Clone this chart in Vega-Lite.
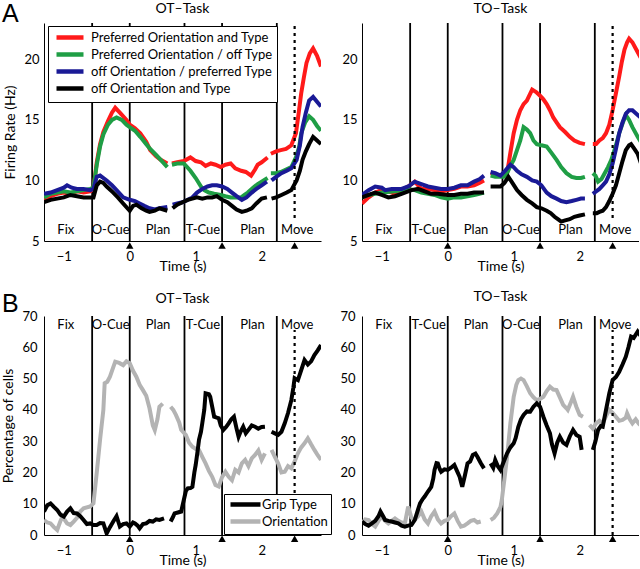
{
"$schema": "https://vega.github.io/schema/vega-lite/v6.json",
"padding": {"left": 1, "top": 1, "right": 0, "bottom": 0},
"config": {
  "font": "Lato",
  "view": {"stroke": null},
  "axis": {"domainColor": "#000", "domainWidth": 1, "ticks": false, "grid": false, "labelColor": "#000", "titleColor": "#000", "labelFontSize": 13, "titleFontSize": 14, "titleFontWeight": "normal"},
  "axisX": {"labelPadding": 9, "titlePadding": -4},
  "title": {"fontSize": 14, "fontWeight": "normal", "color": "#000", "offset": 6},
  "text": {"color": "#000"}
},
"datasets": {
  "ev": [{"t": -0.57}, {"t": 0}, {"t": 0.83}, {"t": 1.4}, {"t": 2.23}],
  "dot": [{"t": 2.5}],
  "tri": [{"t": 0}, {"t": 1.4}, {"t": 2.5}],
  "phases": [
    {"task": "OT", "t": -0.97, "label": "Fix"}, {"task": "OT", "t": -0.29, "label": "O-Cue"}, {"task": "OT", "t": 0.43, "label": "Plan"}, {"task": "OT", "t": 1.11, "label": "T-Cue"}, {"task": "OT", "t": 1.86, "label": "Plan"}, {"task": "OT", "t": 2.54, "label": "Move"},
    {"task": "TO", "t": -0.97, "label": "Fix"}, {"task": "TO", "t": -0.29, "label": "T-Cue"}, {"task": "TO", "t": 0.43, "label": "Plan"}, {"task": "TO", "t": 1.11, "label": "O-Cue"}, {"task": "TO", "t": 1.86, "label": "Plan"}, {"task": "TO", "t": 2.54, "label": "Move"}
  ],
  "fr": [
{"task":"OT","s":"Preferred Orientation and Type","g":1,"t":-1.3,"v":8.4},
{"task":"OT","s":"Preferred Orientation and Type","g":1,"t":-1.2,"v":8.7},
{"task":"OT","s":"Preferred Orientation and Type","g":1,"t":-1.1,"v":8.9},
{"task":"OT","s":"Preferred Orientation and Type","g":1,"t":-1.0,"v":9.0},
{"task":"OT","s":"Preferred Orientation and Type","g":1,"t":-0.9,"v":8.9},
{"task":"OT","s":"Preferred Orientation and Type","g":1,"t":-0.8,"v":9.1},
{"task":"OT","s":"Preferred Orientation and Type","g":1,"t":-0.7,"v":9.0},
{"task":"OT","s":"Preferred Orientation and Type","g":1,"t":-0.6,"v":9.1},
{"task":"OT","s":"Preferred Orientation and Type","g":1,"t":-0.55,"v":9.3},
{"task":"OT","s":"Preferred Orientation and Type","g":1,"t":-0.5,"v":11.5},
{"task":"OT","s":"Preferred Orientation and Type","g":1,"t":-0.45,"v":13.0},
{"task":"OT","s":"Preferred Orientation and Type","g":1,"t":-0.4,"v":14.0},
{"task":"OT","s":"Preferred Orientation and Type","g":1,"t":-0.33,"v":14.9},
{"task":"OT","s":"Preferred Orientation and Type","g":1,"t":-0.27,"v":15.6},
{"task":"OT","s":"Preferred Orientation and Type","g":1,"t":-0.22,"v":16.0},
{"task":"OT","s":"Preferred Orientation and Type","g":1,"t":-0.15,"v":15.6},
{"task":"OT","s":"Preferred Orientation and Type","g":1,"t":-0.05,"v":15.0},
{"task":"OT","s":"Preferred Orientation and Type","g":1,"t":0,"v":14.6},
{"task":"OT","s":"Preferred Orientation and Type","g":1,"t":0.08,"v":14.3},
{"task":"OT","s":"Preferred Orientation and Type","g":1,"t":0.16,"v":13.9},
{"task":"OT","s":"Preferred Orientation and Type","g":1,"t":0.25,"v":13.2},
{"task":"OT","s":"Preferred Orientation and Type","g":1,"t":0.31,"v":12.5},
{"task":"OT","s":"Preferred Orientation and Type","g":1,"t":0.4,"v":12.0},
{"task":"OT","s":"Preferred Orientation and Type","g":1,"t":0.47,"v":11.7},
{"task":"OT","s":"Preferred Orientation and Type","g":1,"t":0.57,"v":11.4},
{"task":"OT","s":"Preferred Orientation and Type","g":2,"t":0.64,"v":11.4},
{"task":"OT","s":"Preferred Orientation and Type","g":2,"t":0.72,"v":11.5},
{"task":"OT","s":"Preferred Orientation and Type","g":2,"t":0.82,"v":11.6},
{"task":"OT","s":"Preferred Orientation and Type","g":2,"t":0.92,"v":11.9},
{"task":"OT","s":"Preferred Orientation and Type","g":2,"t":1.0,"v":11.6},
{"task":"OT","s":"Preferred Orientation and Type","g":2,"t":1.08,"v":11.5},
{"task":"OT","s":"Preferred Orientation and Type","g":2,"t":1.15,"v":11.2},
{"task":"OT","s":"Preferred Orientation and Type","g":2,"t":1.23,"v":11.4},
{"task":"OT","s":"Preferred Orientation and Type","g":2,"t":1.3,"v":11.3},
{"task":"OT","s":"Preferred Orientation and Type","g":2,"t":1.38,"v":11.1},
{"task":"OT","s":"Preferred Orientation and Type","g":2,"t":1.45,"v":11.3},
{"task":"OT","s":"Preferred Orientation and Type","g":2,"t":1.53,"v":11.4},
{"task":"OT","s":"Preferred Orientation and Type","g":2,"t":1.6,"v":11.0},
{"task":"OT","s":"Preferred Orientation and Type","g":2,"t":1.69,"v":10.8},
{"task":"OT","s":"Preferred Orientation and Type","g":2,"t":1.76,"v":10.7},
{"task":"OT","s":"Preferred Orientation and Type","g":2,"t":1.84,"v":10.4},
{"task":"OT","s":"Preferred Orientation and Type","g":2,"t":1.9,"v":10.9},
{"task":"OT","s":"Preferred Orientation and Type","g":2,"t":1.94,"v":11.3},
{"task":"OT","s":"Preferred Orientation and Type","g":2,"t":2.0,"v":11.5},
{"task":"OT","s":"Preferred Orientation and Type","g":2,"t":2.09,"v":11.9},
{"task":"OT","s":"Preferred Orientation and Type","g":3,"t":2.14,"v":12.2},
{"task":"OT","s":"Preferred Orientation and Type","g":3,"t":2.22,"v":12.4},
{"task":"OT","s":"Preferred Orientation and Type","g":3,"t":2.29,"v":12.5},
{"task":"OT","s":"Preferred Orientation and Type","g":3,"t":2.37,"v":12.6},
{"task":"OT","s":"Preferred Orientation and Type","g":3,"t":2.45,"v":12.9},
{"task":"OT","s":"Preferred Orientation and Type","g":3,"t":2.52,"v":13.9},
{"task":"OT","s":"Preferred Orientation and Type","g":3,"t":2.56,"v":15.5},
{"task":"OT","s":"Preferred Orientation and Type","g":3,"t":2.6,"v":17.2},
{"task":"OT","s":"Preferred Orientation and Type","g":3,"t":2.64,"v":18.5},
{"task":"OT","s":"Preferred Orientation and Type","g":3,"t":2.68,"v":19.7},
{"task":"OT","s":"Preferred Orientation and Type","g":3,"t":2.73,"v":20.5},
{"task":"OT","s":"Preferred Orientation and Type","g":3,"t":2.78,"v":20.9},
{"task":"OT","s":"Preferred Orientation and Type","g":3,"t":2.84,"v":20.3},
{"task":"OT","s":"Preferred Orientation and Type","g":3,"t":2.9,"v":19.4},
{"task":"OT","s":"Preferred Orientation / off Type","g":1,"t":-1.3,"v":8.6},
{"task":"OT","s":"Preferred Orientation / off Type","g":1,"t":-1.2,"v":8.9},
{"task":"OT","s":"Preferred Orientation / off Type","g":1,"t":-1.1,"v":9.0},
{"task":"OT","s":"Preferred Orientation / off Type","g":1,"t":-1.0,"v":9.1},
{"task":"OT","s":"Preferred Orientation / off Type","g":1,"t":-0.9,"v":9.0},
{"task":"OT","s":"Preferred Orientation / off Type","g":1,"t":-0.8,"v":9.1},
{"task":"OT","s":"Preferred Orientation / off Type","g":1,"t":-0.7,"v":9.2},
{"task":"OT","s":"Preferred Orientation / off Type","g":1,"t":-0.6,"v":9.3},
{"task":"OT","s":"Preferred Orientation / off Type","g":1,"t":-0.55,"v":9.4},
{"task":"OT","s":"Preferred Orientation / off Type","g":1,"t":-0.5,"v":11.3},
{"task":"OT","s":"Preferred Orientation / off Type","g":1,"t":-0.45,"v":12.8},
{"task":"OT","s":"Preferred Orientation / off Type","g":1,"t":-0.4,"v":13.8},
{"task":"OT","s":"Preferred Orientation / off Type","g":1,"t":-0.33,"v":14.6},
{"task":"OT","s":"Preferred Orientation / off Type","g":1,"t":-0.27,"v":15.0},
{"task":"OT","s":"Preferred Orientation / off Type","g":1,"t":-0.2,"v":15.2},
{"task":"OT","s":"Preferred Orientation / off Type","g":1,"t":-0.12,"v":15.0},
{"task":"OT","s":"Preferred Orientation / off Type","g":1,"t":-0.05,"v":14.6},
{"task":"OT","s":"Preferred Orientation / off Type","g":1,"t":0,"v":14.4},
{"task":"OT","s":"Preferred Orientation / off Type","g":1,"t":0.08,"v":14.1},
{"task":"OT","s":"Preferred Orientation / off Type","g":1,"t":0.16,"v":13.6},
{"task":"OT","s":"Preferred Orientation / off Type","g":1,"t":0.25,"v":13.0},
{"task":"OT","s":"Preferred Orientation / off Type","g":1,"t":0.31,"v":12.6},
{"task":"OT","s":"Preferred Orientation / off Type","g":1,"t":0.4,"v":12.1},
{"task":"OT","s":"Preferred Orientation / off Type","g":1,"t":0.47,"v":11.7},
{"task":"OT","s":"Preferred Orientation / off Type","g":1,"t":0.57,"v":11.1},
{"task":"OT","s":"Preferred Orientation / off Type","g":2,"t":0.64,"v":11.3},
{"task":"OT","s":"Preferred Orientation / off Type","g":2,"t":0.72,"v":11.4},
{"task":"OT","s":"Preferred Orientation / off Type","g":2,"t":0.82,"v":11.4},
{"task":"OT","s":"Preferred Orientation / off Type","g":2,"t":0.92,"v":10.8},
{"task":"OT","s":"Preferred Orientation / off Type","g":2,"t":1.0,"v":10.2},
{"task":"OT","s":"Preferred Orientation / off Type","g":2,"t":1.08,"v":9.5},
{"task":"OT","s":"Preferred Orientation / off Type","g":2,"t":1.13,"v":9.2},
{"task":"OT","s":"Preferred Orientation / off Type","g":2,"t":1.2,"v":9.0},
{"task":"OT","s":"Preferred Orientation / off Type","g":2,"t":1.28,"v":8.9},
{"task":"OT","s":"Preferred Orientation / off Type","g":2,"t":1.38,"v":8.8},
{"task":"OT","s":"Preferred Orientation / off Type","g":2,"t":1.45,"v":8.7},
{"task":"OT","s":"Preferred Orientation / off Type","g":2,"t":1.53,"v":8.6},
{"task":"OT","s":"Preferred Orientation / off Type","g":2,"t":1.6,"v":8.6},
{"task":"OT","s":"Preferred Orientation / off Type","g":2,"t":1.69,"v":8.6},
{"task":"OT","s":"Preferred Orientation / off Type","g":2,"t":1.74,"v":8.8},
{"task":"OT","s":"Preferred Orientation / off Type","g":2,"t":1.79,"v":9.0},
{"task":"OT","s":"Preferred Orientation / off Type","g":2,"t":1.87,"v":9.4},
{"task":"OT","s":"Preferred Orientation / off Type","g":2,"t":1.94,"v":9.7},
{"task":"OT","s":"Preferred Orientation / off Type","g":2,"t":2.0,"v":9.9},
{"task":"OT","s":"Preferred Orientation / off Type","g":2,"t":2.09,"v":10.2},
{"task":"OT","s":"Preferred Orientation / off Type","g":3,"t":2.14,"v":10.6},
{"task":"OT","s":"Preferred Orientation / off Type","g":3,"t":2.22,"v":10.6},
{"task":"OT","s":"Preferred Orientation / off Type","g":3,"t":2.29,"v":10.7},
{"task":"OT","s":"Preferred Orientation / off Type","g":3,"t":2.37,"v":10.9},
{"task":"OT","s":"Preferred Orientation / off Type","g":3,"t":2.45,"v":11.1},
{"task":"OT","s":"Preferred Orientation / off Type","g":3,"t":2.52,"v":11.9},
{"task":"OT","s":"Preferred Orientation / off Type","g":3,"t":2.57,"v":12.8},
{"task":"OT","s":"Preferred Orientation / off Type","g":3,"t":2.6,"v":13.9},
{"task":"OT","s":"Preferred Orientation / off Type","g":3,"t":2.66,"v":14.8},
{"task":"OT","s":"Preferred Orientation / off Type","g":3,"t":2.72,"v":15.3},
{"task":"OT","s":"Preferred Orientation / off Type","g":3,"t":2.78,"v":15.0},
{"task":"OT","s":"Preferred Orientation / off Type","g":3,"t":2.84,"v":14.5},
{"task":"OT","s":"Preferred Orientation / off Type","g":3,"t":2.9,"v":14.1},
{"task":"OT","s":"off Orientation / preferred Type","g":1,"t":-1.3,"v":8.9},
{"task":"OT","s":"off Orientation / preferred Type","g":1,"t":-1.2,"v":9.0},
{"task":"OT","s":"off Orientation / preferred Type","g":1,"t":-1.1,"v":9.2},
{"task":"OT","s":"off Orientation / preferred Type","g":1,"t":-1.0,"v":9.4},
{"task":"OT","s":"off Orientation / preferred Type","g":1,"t":-0.95,"v":9.6},
{"task":"OT","s":"off Orientation / preferred Type","g":1,"t":-0.88,"v":9.4},
{"task":"OT","s":"off Orientation / preferred Type","g":1,"t":-0.8,"v":9.3},
{"task":"OT","s":"off Orientation / preferred Type","g":1,"t":-0.7,"v":9.3},
{"task":"OT","s":"off Orientation / preferred Type","g":1,"t":-0.6,"v":9.2},
{"task":"OT","s":"off Orientation / preferred Type","g":1,"t":-0.55,"v":9.3},
{"task":"OT","s":"off Orientation / preferred Type","g":1,"t":-0.5,"v":10.3},
{"task":"OT","s":"off Orientation / preferred Type","g":1,"t":-0.45,"v":10.4},
{"task":"OT","s":"off Orientation / preferred Type","g":1,"t":-0.35,"v":10.0},
{"task":"OT","s":"off Orientation / preferred Type","g":1,"t":-0.27,"v":9.6},
{"task":"OT","s":"off Orientation / preferred Type","g":1,"t":-0.2,"v":9.2},
{"task":"OT","s":"off Orientation / preferred Type","g":1,"t":-0.1,"v":8.6},
{"task":"OT","s":"off Orientation / preferred Type","g":1,"t":0,"v":8.4},
{"task":"OT","s":"off Orientation / preferred Type","g":1,"t":0.08,"v":8.3},
{"task":"OT","s":"off Orientation / preferred Type","g":1,"t":0.15,"v":8.1},
{"task":"OT","s":"off Orientation / preferred Type","g":1,"t":0.22,"v":7.9},
{"task":"OT","s":"off Orientation / preferred Type","g":1,"t":0.3,"v":7.7},
{"task":"OT","s":"off Orientation / preferred Type","g":1,"t":0.38,"v":7.6},
{"task":"OT","s":"off Orientation / preferred Type","g":1,"t":0.45,"v":7.7},
{"task":"OT","s":"off Orientation / preferred Type","g":1,"t":0.57,"v":7.8},
{"task":"OT","s":"off Orientation / preferred Type","g":2,"t":0.65,"v":8.0},
{"task":"OT","s":"off Orientation / preferred Type","g":2,"t":0.72,"v":8.1},
{"task":"OT","s":"off Orientation / preferred Type","g":2,"t":0.8,"v":8.2},
{"task":"OT","s":"off Orientation / preferred Type","g":2,"t":0.88,"v":8.4},
{"task":"OT","s":"off Orientation / preferred Type","g":2,"t":0.95,"v":8.6},
{"task":"OT","s":"off Orientation / preferred Type","g":2,"t":1.02,"v":9.0},
{"task":"OT","s":"off Orientation / preferred Type","g":2,"t":1.1,"v":9.3},
{"task":"OT","s":"off Orientation / preferred Type","g":2,"t":1.18,"v":9.5},
{"task":"OT","s":"off Orientation / preferred Type","g":2,"t":1.25,"v":9.6},
{"task":"OT","s":"off Orientation / preferred Type","g":2,"t":1.32,"v":9.6},
{"task":"OT","s":"off Orientation / preferred Type","g":2,"t":1.4,"v":9.5},
{"task":"OT","s":"off Orientation / preferred Type","g":2,"t":1.48,"v":9.3},
{"task":"OT","s":"off Orientation / preferred Type","g":2,"t":1.55,"v":9.0},
{"task":"OT","s":"off Orientation / preferred Type","g":2,"t":1.62,"v":8.7},
{"task":"OT","s":"off Orientation / preferred Type","g":2,"t":1.7,"v":8.4},
{"task":"OT","s":"off Orientation / preferred Type","g":2,"t":1.77,"v":8.6},
{"task":"OT","s":"off Orientation / preferred Type","g":2,"t":1.85,"v":9.0},
{"task":"OT","s":"off Orientation / preferred Type","g":2,"t":1.92,"v":9.3},
{"task":"OT","s":"off Orientation / preferred Type","g":2,"t":2.0,"v":9.6},
{"task":"OT","s":"off Orientation / preferred Type","g":2,"t":2.08,"v":9.9},
{"task":"OT","s":"off Orientation / preferred Type","g":3,"t":2.15,"v":10.0},
{"task":"OT","s":"off Orientation / preferred Type","g":3,"t":2.22,"v":10.3},
{"task":"OT","s":"off Orientation / preferred Type","g":3,"t":2.3,"v":10.6},
{"task":"OT","s":"off Orientation / preferred Type","g":3,"t":2.38,"v":10.8},
{"task":"OT","s":"off Orientation / preferred Type","g":3,"t":2.45,"v":11.0},
{"task":"OT","s":"off Orientation / preferred Type","g":3,"t":2.53,"v":11.7},
{"task":"OT","s":"off Orientation / preferred Type","g":3,"t":2.58,"v":12.9},
{"task":"OT","s":"off Orientation / preferred Type","g":3,"t":2.62,"v":14.4},
{"task":"OT","s":"off Orientation / preferred Type","g":3,"t":2.67,"v":15.6},
{"task":"OT","s":"off Orientation / preferred Type","g":3,"t":2.72,"v":16.6},
{"task":"OT","s":"off Orientation / preferred Type","g":3,"t":2.78,"v":16.9},
{"task":"OT","s":"off Orientation / preferred Type","g":3,"t":2.84,"v":16.5},
{"task":"OT","s":"off Orientation / preferred Type","g":3,"t":2.9,"v":16.1},
{"task":"OT","s":"off Orientation and Type","g":1,"t":-1.3,"v":8.2},
{"task":"OT","s":"off Orientation and Type","g":1,"t":-1.2,"v":8.4},
{"task":"OT","s":"off Orientation and Type","g":1,"t":-1.1,"v":8.5},
{"task":"OT","s":"off Orientation and Type","g":1,"t":-1.0,"v":8.6},
{"task":"OT","s":"off Orientation and Type","g":1,"t":-0.9,"v":8.8},
{"task":"OT","s":"off Orientation and Type","g":1,"t":-0.8,"v":8.7},
{"task":"OT","s":"off Orientation and Type","g":1,"t":-0.7,"v":8.6},
{"task":"OT","s":"off Orientation and Type","g":1,"t":-0.6,"v":8.6},
{"task":"OT","s":"off Orientation and Type","g":1,"t":-0.55,"v":8.6},
{"task":"OT","s":"off Orientation and Type","g":1,"t":-0.5,"v":9.6},
{"task":"OT","s":"off Orientation and Type","g":1,"t":-0.45,"v":9.9},
{"task":"OT","s":"off Orientation and Type","g":1,"t":-0.4,"v":9.8},
{"task":"OT","s":"off Orientation and Type","g":1,"t":-0.35,"v":9.5},
{"task":"OT","s":"off Orientation and Type","g":1,"t":-0.25,"v":9.0},
{"task":"OT","s":"off Orientation and Type","g":1,"t":-0.18,"v":8.6},
{"task":"OT","s":"off Orientation and Type","g":1,"t":-0.1,"v":8.1},
{"task":"OT","s":"off Orientation and Type","g":1,"t":0,"v":7.5},
{"task":"OT","s":"off Orientation and Type","g":1,"t":0.05,"v":7.9},
{"task":"OT","s":"off Orientation and Type","g":1,"t":0.1,"v":8.0},
{"task":"OT","s":"off Orientation and Type","g":1,"t":0.18,"v":7.7},
{"task":"OT","s":"off Orientation and Type","g":1,"t":0.25,"v":7.5},
{"task":"OT","s":"off Orientation and Type","g":1,"t":0.3,"v":7.4},
{"task":"OT","s":"off Orientation and Type","g":1,"t":0.38,"v":7.5},
{"task":"OT","s":"off Orientation and Type","g":1,"t":0.45,"v":7.7},
{"task":"OT","s":"off Orientation and Type","g":1,"t":0.57,"v":7.5},
{"task":"OT","s":"off Orientation and Type","g":2,"t":0.65,"v":7.7},
{"task":"OT","s":"off Orientation and Type","g":2,"t":0.72,"v":8.0},
{"task":"OT","s":"off Orientation and Type","g":2,"t":0.8,"v":8.2},
{"task":"OT","s":"off Orientation and Type","g":2,"t":0.88,"v":8.4},
{"task":"OT","s":"off Orientation and Type","g":2,"t":0.95,"v":8.5},
{"task":"OT","s":"off Orientation and Type","g":2,"t":1.02,"v":8.6},
{"task":"OT","s":"off Orientation and Type","g":2,"t":1.1,"v":8.5},
{"task":"OT","s":"off Orientation and Type","g":2,"t":1.18,"v":8.6},
{"task":"OT","s":"off Orientation and Type","g":2,"t":1.25,"v":8.6},
{"task":"OT","s":"off Orientation and Type","g":2,"t":1.32,"v":8.7},
{"task":"OT","s":"off Orientation and Type","g":2,"t":1.4,"v":8.4},
{"task":"OT","s":"off Orientation and Type","g":2,"t":1.48,"v":8.2},
{"task":"OT","s":"off Orientation and Type","g":2,"t":1.55,"v":7.9},
{"task":"OT","s":"off Orientation and Type","g":2,"t":1.62,"v":7.6},
{"task":"OT","s":"off Orientation and Type","g":2,"t":1.7,"v":7.4},
{"task":"OT","s":"off Orientation and Type","g":2,"t":1.77,"v":7.5},
{"task":"OT","s":"off Orientation and Type","g":2,"t":1.85,"v":7.7},
{"task":"OT","s":"off Orientation and Type","g":2,"t":1.92,"v":8.1},
{"task":"OT","s":"off Orientation and Type","g":2,"t":2.0,"v":8.5},
{"task":"OT","s":"off Orientation and Type","g":2,"t":2.08,"v":8.6},
{"task":"OT","s":"off Orientation and Type","g":3,"t":2.15,"v":8.5},
{"task":"OT","s":"off Orientation and Type","g":3,"t":2.22,"v":8.6},
{"task":"OT","s":"off Orientation and Type","g":3,"t":2.3,"v":8.8},
{"task":"OT","s":"off Orientation and Type","g":3,"t":2.38,"v":9.0},
{"task":"OT","s":"off Orientation and Type","g":3,"t":2.45,"v":9.2},
{"task":"OT","s":"off Orientation and Type","g":3,"t":2.53,"v":10.0},
{"task":"OT","s":"off Orientation and Type","g":3,"t":2.58,"v":10.8},
{"task":"OT","s":"off Orientation and Type","g":3,"t":2.62,"v":11.7},
{"task":"OT","s":"off Orientation and Type","g":3,"t":2.67,"v":12.4},
{"task":"OT","s":"off Orientation and Type","g":3,"t":2.72,"v":13.0},
{"task":"OT","s":"off Orientation and Type","g":3,"t":2.78,"v":13.6},
{"task":"OT","s":"off Orientation and Type","g":3,"t":2.84,"v":13.3},
{"task":"OT","s":"off Orientation and Type","g":3,"t":2.9,"v":13.0},
{"task":"TO","s":"Preferred Orientation and Type","g":1,"t":-1.3,"v":8.1},
{"task":"TO","s":"Preferred Orientation and Type","g":1,"t":-1.2,"v":8.6},
{"task":"TO","s":"Preferred Orientation and Type","g":1,"t":-1.1,"v":9.0},
{"task":"TO","s":"Preferred Orientation and Type","g":1,"t":-1.0,"v":9.2},
{"task":"TO","s":"Preferred Orientation and Type","g":1,"t":-0.9,"v":9.1},
{"task":"TO","s":"Preferred Orientation and Type","g":1,"t":-0.8,"v":8.9},
{"task":"TO","s":"Preferred Orientation and Type","g":1,"t":-0.7,"v":9.2},
{"task":"TO","s":"Preferred Orientation and Type","g":1,"t":-0.6,"v":9.5},
{"task":"TO","s":"Preferred Orientation and Type","g":1,"t":-0.5,"v":9.9},
{"task":"TO","s":"Preferred Orientation and Type","g":1,"t":-0.4,"v":9.3},
{"task":"TO","s":"Preferred Orientation and Type","g":1,"t":-0.3,"v":9.3},
{"task":"TO","s":"Preferred Orientation and Type","g":1,"t":-0.2,"v":9.2},
{"task":"TO","s":"Preferred Orientation and Type","g":1,"t":-0.1,"v":9.1},
{"task":"TO","s":"Preferred Orientation and Type","g":1,"t":0,"v":9.2},
{"task":"TO","s":"Preferred Orientation and Type","g":1,"t":0.1,"v":9.3},
{"task":"TO","s":"Preferred Orientation and Type","g":1,"t":0.2,"v":9.5},
{"task":"TO","s":"Preferred Orientation and Type","g":1,"t":0.3,"v":9.5},
{"task":"TO","s":"Preferred Orientation and Type","g":1,"t":0.4,"v":9.6},
{"task":"TO","s":"Preferred Orientation and Type","g":1,"t":0.48,"v":9.8},
{"task":"TO","s":"Preferred Orientation and Type","g":1,"t":0.55,"v":10.0},
{"task":"TO","s":"Preferred Orientation and Type","g":2,"t":0.65,"v":10.6},
{"task":"TO","s":"Preferred Orientation and Type","g":2,"t":0.72,"v":10.5},
{"task":"TO","s":"Preferred Orientation and Type","g":2,"t":0.8,"v":10.4},
{"task":"TO","s":"Preferred Orientation and Type","g":2,"t":0.85,"v":10.5},
{"task":"TO","s":"Preferred Orientation and Type","g":2,"t":0.9,"v":10.6},
{"task":"TO","s":"Preferred Orientation and Type","g":2,"t":0.95,"v":12.3},
{"task":"TO","s":"Preferred Orientation and Type","g":2,"t":1.0,"v":13.9},
{"task":"TO","s":"Preferred Orientation and Type","g":2,"t":1.05,"v":15.0},
{"task":"TO","s":"Preferred Orientation and Type","g":2,"t":1.1,"v":15.8},
{"task":"TO","s":"Preferred Orientation and Type","g":2,"t":1.15,"v":16.3},
{"task":"TO","s":"Preferred Orientation and Type","g":2,"t":1.2,"v":16.6},
{"task":"TO","s":"Preferred Orientation and Type","g":2,"t":1.28,"v":17.5},
{"task":"TO","s":"Preferred Orientation and Type","g":2,"t":1.34,"v":17.3},
{"task":"TO","s":"Preferred Orientation and Type","g":2,"t":1.4,"v":17.0},
{"task":"TO","s":"Preferred Orientation and Type","g":2,"t":1.45,"v":16.7},
{"task":"TO","s":"Preferred Orientation and Type","g":2,"t":1.5,"v":16.3},
{"task":"TO","s":"Preferred Orientation and Type","g":2,"t":1.55,"v":15.8},
{"task":"TO","s":"Preferred Orientation and Type","g":2,"t":1.6,"v":15.2},
{"task":"TO","s":"Preferred Orientation and Type","g":2,"t":1.65,"v":14.8},
{"task":"TO","s":"Preferred Orientation and Type","g":2,"t":1.7,"v":14.4},
{"task":"TO","s":"Preferred Orientation and Type","g":2,"t":1.78,"v":14.0},
{"task":"TO","s":"Preferred Orientation and Type","g":2,"t":1.85,"v":13.6},
{"task":"TO","s":"Preferred Orientation and Type","g":2,"t":1.92,"v":13.3},
{"task":"TO","s":"Preferred Orientation and Type","g":2,"t":2.0,"v":13.1},
{"task":"TO","s":"Preferred Orientation and Type","g":2,"t":2.08,"v":13.0},
{"task":"TO","s":"Preferred Orientation and Type","g":3,"t":2.2,"v":13.0},
{"task":"TO","s":"Preferred Orientation and Type","g":3,"t":2.25,"v":13.0},
{"task":"TO","s":"Preferred Orientation and Type","g":3,"t":2.3,"v":13.3},
{"task":"TO","s":"Preferred Orientation and Type","g":3,"t":2.35,"v":13.5},
{"task":"TO","s":"Preferred Orientation and Type","g":3,"t":2.4,"v":13.9},
{"task":"TO","s":"Preferred Orientation and Type","g":3,"t":2.45,"v":14.6},
{"task":"TO","s":"Preferred Orientation and Type","g":3,"t":2.5,"v":15.8},
{"task":"TO","s":"Preferred Orientation and Type","g":3,"t":2.55,"v":17.2},
{"task":"TO","s":"Preferred Orientation and Type","g":3,"t":2.6,"v":18.6},
{"task":"TO","s":"Preferred Orientation and Type","g":3,"t":2.64,"v":19.8},
{"task":"TO","s":"Preferred Orientation and Type","g":3,"t":2.68,"v":20.8},
{"task":"TO","s":"Preferred Orientation and Type","g":3,"t":2.72,"v":21.4},
{"task":"TO","s":"Preferred Orientation and Type","g":3,"t":2.75,"v":21.7},
{"task":"TO","s":"Preferred Orientation and Type","g":3,"t":2.8,"v":21.4},
{"task":"TO","s":"Preferred Orientation and Type","g":3,"t":2.85,"v":20.9},
{"task":"TO","s":"Preferred Orientation and Type","g":3,"t":2.95,"v":19.9},
{"task":"TO","s":"Preferred Orientation / off Type","g":1,"t":-1.3,"v":8.6},
{"task":"TO","s":"Preferred Orientation / off Type","g":1,"t":-1.2,"v":8.8},
{"task":"TO","s":"Preferred Orientation / off Type","g":1,"t":-1.1,"v":8.9},
{"task":"TO","s":"Preferred Orientation / off Type","g":1,"t":-1.0,"v":9.0},
{"task":"TO","s":"Preferred Orientation / off Type","g":1,"t":-0.8,"v":9.1},
{"task":"TO","s":"Preferred Orientation / off Type","g":1,"t":-0.6,"v":9.3},
{"task":"TO","s":"Preferred Orientation / off Type","g":1,"t":-0.5,"v":9.2},
{"task":"TO","s":"Preferred Orientation / off Type","g":1,"t":-0.4,"v":9.0},
{"task":"TO","s":"Preferred Orientation / off Type","g":1,"t":-0.3,"v":8.9},
{"task":"TO","s":"Preferred Orientation / off Type","g":1,"t":-0.2,"v":8.8},
{"task":"TO","s":"Preferred Orientation / off Type","g":1,"t":-0.1,"v":8.6},
{"task":"TO","s":"Preferred Orientation / off Type","g":1,"t":0,"v":8.5},
{"task":"TO","s":"Preferred Orientation / off Type","g":1,"t":0.1,"v":8.6},
{"task":"TO","s":"Preferred Orientation / off Type","g":1,"t":0.2,"v":8.6},
{"task":"TO","s":"Preferred Orientation / off Type","g":1,"t":0.3,"v":8.7},
{"task":"TO","s":"Preferred Orientation / off Type","g":1,"t":0.4,"v":8.8},
{"task":"TO","s":"Preferred Orientation / off Type","g":1,"t":0.48,"v":8.9},
{"task":"TO","s":"Preferred Orientation / off Type","g":1,"t":0.55,"v":9.0},
{"task":"TO","s":"Preferred Orientation / off Type","g":2,"t":0.65,"v":10.4},
{"task":"TO","s":"Preferred Orientation / off Type","g":2,"t":0.72,"v":10.3},
{"task":"TO","s":"Preferred Orientation / off Type","g":2,"t":0.8,"v":10.3},
{"task":"TO","s":"Preferred Orientation / off Type","g":2,"t":0.85,"v":10.3},
{"task":"TO","s":"Preferred Orientation / off Type","g":2,"t":0.9,"v":10.6},
{"task":"TO","s":"Preferred Orientation / off Type","g":2,"t":0.95,"v":11.2},
{"task":"TO","s":"Preferred Orientation / off Type","g":2,"t":1.0,"v":11.7},
{"task":"TO","s":"Preferred Orientation / off Type","g":2,"t":1.05,"v":12.5},
{"task":"TO","s":"Preferred Orientation / off Type","g":2,"t":1.1,"v":13.3},
{"task":"TO","s":"Preferred Orientation / off Type","g":2,"t":1.15,"v":14.4},
{"task":"TO","s":"Preferred Orientation / off Type","g":2,"t":1.2,"v":14.2},
{"task":"TO","s":"Preferred Orientation / off Type","g":2,"t":1.25,"v":13.9},
{"task":"TO","s":"Preferred Orientation / off Type","g":2,"t":1.3,"v":13.3},
{"task":"TO","s":"Preferred Orientation / off Type","g":2,"t":1.35,"v":13.0},
{"task":"TO","s":"Preferred Orientation / off Type","g":2,"t":1.42,"v":12.9},
{"task":"TO","s":"Preferred Orientation / off Type","g":2,"t":1.5,"v":12.8},
{"task":"TO","s":"Preferred Orientation / off Type","g":2,"t":1.57,"v":12.3},
{"task":"TO","s":"Preferred Orientation / off Type","g":2,"t":1.65,"v":11.7},
{"task":"TO","s":"Preferred Orientation / off Type","g":2,"t":1.72,"v":11.1},
{"task":"TO","s":"Preferred Orientation / off Type","g":2,"t":1.8,"v":10.6},
{"task":"TO","s":"Preferred Orientation / off Type","g":2,"t":1.88,"v":10.3},
{"task":"TO","s":"Preferred Orientation / off Type","g":2,"t":1.95,"v":10.2},
{"task":"TO","s":"Preferred Orientation / off Type","g":2,"t":2.02,"v":10.2},
{"task":"TO","s":"Preferred Orientation / off Type","g":2,"t":2.08,"v":10.3},
{"task":"TO","s":"Preferred Orientation / off Type","g":3,"t":2.2,"v":10.6},
{"task":"TO","s":"Preferred Orientation / off Type","g":3,"t":2.24,"v":10.4},
{"task":"TO","s":"Preferred Orientation / off Type","g":3,"t":2.28,"v":9.9},
{"task":"TO","s":"Preferred Orientation / off Type","g":3,"t":2.33,"v":10.1},
{"task":"TO","s":"Preferred Orientation / off Type","g":3,"t":2.38,"v":10.6},
{"task":"TO","s":"Preferred Orientation / off Type","g":3,"t":2.43,"v":11.1},
{"task":"TO","s":"Preferred Orientation / off Type","g":3,"t":2.48,"v":11.7},
{"task":"TO","s":"Preferred Orientation / off Type","g":3,"t":2.54,"v":12.7},
{"task":"TO","s":"Preferred Orientation / off Type","g":3,"t":2.6,"v":13.9},
{"task":"TO","s":"Preferred Orientation / off Type","g":3,"t":2.65,"v":14.7},
{"task":"TO","s":"Preferred Orientation / off Type","g":3,"t":2.7,"v":15.4},
{"task":"TO","s":"Preferred Orientation / off Type","g":3,"t":2.75,"v":15.0},
{"task":"TO","s":"Preferred Orientation / off Type","g":3,"t":2.8,"v":14.4},
{"task":"TO","s":"Preferred Orientation / off Type","g":3,"t":2.88,"v":13.6},
{"task":"TO","s":"Preferred Orientation / off Type","g":3,"t":2.95,"v":13.0},
{"task":"TO","s":"off Orientation / preferred Type","g":1,"t":-1.3,"v":8.8},
{"task":"TO","s":"off Orientation / preferred Type","g":1,"t":-1.2,"v":9.2},
{"task":"TO","s":"off Orientation / preferred Type","g":1,"t":-1.1,"v":9.5},
{"task":"TO","s":"off Orientation / preferred Type","g":1,"t":-1.0,"v":9.4},
{"task":"TO","s":"off Orientation / preferred Type","g":1,"t":-0.95,"v":9.2},
{"task":"TO","s":"off Orientation / preferred Type","g":1,"t":-0.85,"v":9.3},
{"task":"TO","s":"off Orientation / preferred Type","g":1,"t":-0.7,"v":9.3},
{"task":"TO","s":"off Orientation / preferred Type","g":1,"t":-0.6,"v":9.5},
{"task":"TO","s":"off Orientation / preferred Type","g":1,"t":-0.5,"v":9.9},
{"task":"TO","s":"off Orientation / preferred Type","g":1,"t":-0.4,"v":9.7},
{"task":"TO","s":"off Orientation / preferred Type","g":1,"t":-0.3,"v":9.5},
{"task":"TO","s":"off Orientation / preferred Type","g":1,"t":-0.2,"v":9.4},
{"task":"TO","s":"off Orientation / preferred Type","g":1,"t":-0.1,"v":9.3},
{"task":"TO","s":"off Orientation / preferred Type","g":1,"t":0,"v":9.3},
{"task":"TO","s":"off Orientation / preferred Type","g":1,"t":0.1,"v":9.4},
{"task":"TO","s":"off Orientation / preferred Type","g":1,"t":0.2,"v":9.6},
{"task":"TO","s":"off Orientation / preferred Type","g":1,"t":0.3,"v":9.6},
{"task":"TO","s":"off Orientation / preferred Type","g":1,"t":0.4,"v":9.9},
{"task":"TO","s":"off Orientation / preferred Type","g":1,"t":0.48,"v":10.1},
{"task":"TO","s":"off Orientation / preferred Type","g":1,"t":0.55,"v":10.4},
{"task":"TO","s":"off Orientation / preferred Type","g":2,"t":0.65,"v":10.7},
{"task":"TO","s":"off Orientation / preferred Type","g":2,"t":0.72,"v":10.6},
{"task":"TO","s":"off Orientation / preferred Type","g":2,"t":0.8,"v":10.4},
{"task":"TO","s":"off Orientation / preferred Type","g":2,"t":0.87,"v":10.8},
{"task":"TO","s":"off Orientation / preferred Type","g":2,"t":0.95,"v":11.3},
{"task":"TO","s":"off Orientation / preferred Type","g":2,"t":1.0,"v":11.1},
{"task":"TO","s":"off Orientation / preferred Type","g":2,"t":1.05,"v":10.8},
{"task":"TO","s":"off Orientation / preferred Type","g":2,"t":1.12,"v":10.5},
{"task":"TO","s":"off Orientation / preferred Type","g":2,"t":1.2,"v":10.3},
{"task":"TO","s":"off Orientation / preferred Type","g":2,"t":1.28,"v":10.0},
{"task":"TO","s":"off Orientation / preferred Type","g":2,"t":1.35,"v":9.9},
{"task":"TO","s":"off Orientation / preferred Type","g":2,"t":1.42,"v":9.6},
{"task":"TO","s":"off Orientation / preferred Type","g":2,"t":1.5,"v":9.0},
{"task":"TO","s":"off Orientation / preferred Type","g":2,"t":1.57,"v":8.7},
{"task":"TO","s":"off Orientation / preferred Type","g":2,"t":1.65,"v":8.5},
{"task":"TO","s":"off Orientation / preferred Type","g":2,"t":1.72,"v":8.3},
{"task":"TO","s":"off Orientation / preferred Type","g":2,"t":1.8,"v":8.2},
{"task":"TO","s":"off Orientation / preferred Type","g":2,"t":1.88,"v":8.3},
{"task":"TO","s":"off Orientation / preferred Type","g":2,"t":1.95,"v":8.4},
{"task":"TO","s":"off Orientation / preferred Type","g":2,"t":2.02,"v":8.5},
{"task":"TO","s":"off Orientation / preferred Type","g":2,"t":2.08,"v":8.5},
{"task":"TO","s":"off Orientation / preferred Type","g":3,"t":2.2,"v":8.9},
{"task":"TO","s":"off Orientation / preferred Type","g":3,"t":2.25,"v":9.1},
{"task":"TO","s":"off Orientation / preferred Type","g":3,"t":2.3,"v":9.3},
{"task":"TO","s":"off Orientation / preferred Type","g":3,"t":2.35,"v":9.6},
{"task":"TO","s":"off Orientation / preferred Type","g":3,"t":2.4,"v":9.9},
{"task":"TO","s":"off Orientation / preferred Type","g":3,"t":2.45,"v":10.5},
{"task":"TO","s":"off Orientation / preferred Type","g":3,"t":2.5,"v":11.4},
{"task":"TO","s":"off Orientation / preferred Type","g":3,"t":2.55,"v":12.6},
{"task":"TO","s":"off Orientation / preferred Type","g":3,"t":2.6,"v":13.9},
{"task":"TO","s":"off Orientation / preferred Type","g":3,"t":2.65,"v":14.8},
{"task":"TO","s":"off Orientation / preferred Type","g":3,"t":2.7,"v":15.5},
{"task":"TO","s":"off Orientation / preferred Type","g":3,"t":2.75,"v":15.8},
{"task":"TO","s":"off Orientation / preferred Type","g":3,"t":2.8,"v":15.8},
{"task":"TO","s":"off Orientation / preferred Type","g":3,"t":2.88,"v":15.4},
{"task":"TO","s":"off Orientation / preferred Type","g":3,"t":2.95,"v":15.1},
{"task":"TO","s":"off Orientation and Type","g":1,"t":-1.3,"v":8.6},
{"task":"TO","s":"off Orientation and Type","g":1,"t":-1.2,"v":8.8},
{"task":"TO","s":"off Orientation and Type","g":1,"t":-1.1,"v":9.0},
{"task":"TO","s":"off Orientation and Type","g":1,"t":-1.0,"v":8.8},
{"task":"TO","s":"off Orientation and Type","g":1,"t":-0.9,"v":8.6},
{"task":"TO","s":"off Orientation and Type","g":1,"t":-0.8,"v":8.7},
{"task":"TO","s":"off Orientation and Type","g":1,"t":-0.7,"v":8.9},
{"task":"TO","s":"off Orientation and Type","g":1,"t":-0.6,"v":9.1},
{"task":"TO","s":"off Orientation and Type","g":1,"t":-0.55,"v":9.2},
{"task":"TO","s":"off Orientation and Type","g":1,"t":-0.45,"v":9.3},
{"task":"TO","s":"off Orientation and Type","g":1,"t":-0.35,"v":9.1},
{"task":"TO","s":"off Orientation and Type","g":1,"t":-0.25,"v":8.9},
{"task":"TO","s":"off Orientation and Type","g":1,"t":-0.15,"v":8.9},
{"task":"TO","s":"off Orientation and Type","g":1,"t":0,"v":8.8},
{"task":"TO","s":"off Orientation and Type","g":1,"t":0.1,"v":8.8},
{"task":"TO","s":"off Orientation and Type","g":1,"t":0.2,"v":8.9},
{"task":"TO","s":"off Orientation and Type","g":1,"t":0.3,"v":8.9},
{"task":"TO","s":"off Orientation and Type","g":1,"t":0.4,"v":9.0},
{"task":"TO","s":"off Orientation and Type","g":1,"t":0.48,"v":9.0},
{"task":"TO","s":"off Orientation and Type","g":1,"t":0.55,"v":9.0},
{"task":"TO","s":"off Orientation and Type","g":2,"t":0.65,"v":9.5},
{"task":"TO","s":"off Orientation and Type","g":2,"t":0.72,"v":9.5},
{"task":"TO","s":"off Orientation and Type","g":2,"t":0.8,"v":9.5},
{"task":"TO","s":"off Orientation and Type","g":2,"t":0.86,"v":9.8},
{"task":"TO","s":"off Orientation and Type","g":2,"t":0.92,"v":10.3},
{"task":"TO","s":"off Orientation and Type","g":2,"t":0.98,"v":9.8},
{"task":"TO","s":"off Orientation and Type","g":2,"t":1.05,"v":9.2},
{"task":"TO","s":"off Orientation and Type","g":2,"t":1.12,"v":8.8},
{"task":"TO","s":"off Orientation and Type","g":2,"t":1.2,"v":8.4},
{"task":"TO","s":"off Orientation and Type","g":2,"t":1.28,"v":8.1},
{"task":"TO","s":"off Orientation and Type","g":2,"t":1.35,"v":7.8},
{"task":"TO","s":"off Orientation and Type","g":2,"t":1.42,"v":7.7},
{"task":"TO","s":"off Orientation and Type","g":2,"t":1.5,"v":7.5},
{"task":"TO","s":"off Orientation and Type","g":2,"t":1.56,"v":7.3},
{"task":"TO","s":"off Orientation and Type","g":2,"t":1.62,"v":7.0},
{"task":"TO","s":"off Orientation and Type","g":2,"t":1.67,"v":6.8},
{"task":"TO","s":"off Orientation and Type","g":2,"t":1.72,"v":6.6},
{"task":"TO","s":"off Orientation and Type","g":2,"t":1.78,"v":6.7},
{"task":"TO","s":"off Orientation and Type","g":2,"t":1.85,"v":6.8},
{"task":"TO","s":"off Orientation and Type","g":2,"t":1.92,"v":7.0},
{"task":"TO","s":"off Orientation and Type","g":2,"t":2.0,"v":7.1},
{"task":"TO","s":"off Orientation and Type","g":2,"t":2.08,"v":7.2},
{"task":"TO","s":"off Orientation and Type","g":3,"t":2.2,"v":7.3},
{"task":"TO","s":"off Orientation and Type","g":3,"t":2.26,"v":7.3},
{"task":"TO","s":"off Orientation and Type","g":3,"t":2.3,"v":7.4},
{"task":"TO","s":"off Orientation and Type","g":3,"t":2.35,"v":7.5},
{"task":"TO","s":"off Orientation and Type","g":3,"t":2.4,"v":7.8},
{"task":"TO","s":"off Orientation and Type","g":3,"t":2.45,"v":8.3},
{"task":"TO","s":"off Orientation and Type","g":3,"t":2.5,"v":8.9},
{"task":"TO","s":"off Orientation and Type","g":3,"t":2.55,"v":9.6},
{"task":"TO","s":"off Orientation and Type","g":3,"t":2.6,"v":10.6},
{"task":"TO","s":"off Orientation and Type","g":3,"t":2.65,"v":11.6},
{"task":"TO","s":"off Orientation and Type","g":3,"t":2.7,"v":12.5},
{"task":"TO","s":"off Orientation and Type","g":3,"t":2.75,"v":12.9},
{"task":"TO","s":"off Orientation and Type","g":3,"t":2.78,"v":13.0},
{"task":"TO","s":"off Orientation and Type","g":3,"t":2.83,"v":12.6},
{"task":"TO","s":"off Orientation and Type","g":3,"t":2.88,"v":12.2},
{"task":"TO","s":"off Orientation and Type","g":3,"t":2.95,"v":11.1}
  ],
  "pct": [
{"task":"OT","s":"Orientation","g":1,"t":-1.3,"v":4.8},
{"task":"OT","s":"Orientation","g":1,"t":-1.25,"v":4.0},
{"task":"OT","s":"Orientation","g":1,"t":-1.2,"v":3.7},
{"task":"OT","s":"Orientation","g":1,"t":-1.15,"v":2.5},
{"task":"OT","s":"Orientation","g":1,"t":-1.1,"v":1.6},
{"task":"OT","s":"Orientation","g":1,"t":-1.05,"v":4.5},
{"task":"OT","s":"Orientation","g":1,"t":-1.02,"v":5.9},
{"task":"OT","s":"Orientation","g":1,"t":-0.95,"v":3.7},
{"task":"OT","s":"Orientation","g":1,"t":-0.9,"v":3.2},
{"task":"OT","s":"Orientation","g":1,"t":-0.85,"v":4.3},
{"task":"OT","s":"Orientation","g":1,"t":-0.8,"v":5.5},
{"task":"OT","s":"Orientation","g":1,"t":-0.75,"v":7.5},
{"task":"OT","s":"Orientation","g":1,"t":-0.7,"v":8.5},
{"task":"OT","s":"Orientation","g":1,"t":-0.6,"v":9.1},
{"task":"OT","s":"Orientation","g":1,"t":-0.55,"v":10.1},
{"task":"OT","s":"Orientation","g":1,"t":-0.5,"v":20.0},
{"task":"OT","s":"Orientation","g":1,"t":-0.45,"v":30.4},
{"task":"OT","s":"Orientation","g":1,"t":-0.4,"v":40.0},
{"task":"OT","s":"Orientation","g":1,"t":-0.38,"v":48.5},
{"task":"OT","s":"Orientation","g":1,"t":-0.34,"v":49.0},
{"task":"OT","s":"Orientation","g":1,"t":-0.3,"v":50.6},
{"task":"OT","s":"Orientation","g":1,"t":-0.26,"v":53.0},
{"task":"OT","s":"Orientation","g":1,"t":-0.22,"v":55.4},
{"task":"OT","s":"Orientation","g":1,"t":-0.16,"v":55.0},
{"task":"OT","s":"Orientation","g":1,"t":-0.1,"v":54.3},
{"task":"OT","s":"Orientation","g":1,"t":-0.05,"v":55.5},
{"task":"OT","s":"Orientation","g":1,"t":0,"v":54.9},
{"task":"OT","s":"Orientation","g":1,"t":0.05,"v":52.5},
{"task":"OT","s":"Orientation","g":1,"t":0.1,"v":50.6},
{"task":"OT","s":"Orientation","g":1,"t":0.15,"v":48.0},
{"task":"OT","s":"Orientation","g":1,"t":0.2,"v":46.3},
{"task":"OT","s":"Orientation","g":1,"t":0.25,"v":44.5},
{"task":"OT","s":"Orientation","g":1,"t":0.3,"v":40.5},
{"task":"OT","s":"Orientation","g":1,"t":0.35,"v":35.0},
{"task":"OT","s":"Orientation","g":1,"t":0.38,"v":33.5},
{"task":"OT","s":"Orientation","g":1,"t":0.42,"v":37.0},
{"task":"OT","s":"Orientation","g":1,"t":0.45,"v":41.0},
{"task":"OT","s":"Orientation","g":1,"t":0.5,"v":42.0},
{"task":"OT","s":"Orientation","g":2,"t":0.62,"v":41.0},
{"task":"OT","s":"Orientation","g":2,"t":0.66,"v":40.0},
{"task":"OT","s":"Orientation","g":2,"t":0.7,"v":38.4},
{"task":"OT","s":"Orientation","g":2,"t":0.75,"v":36.0},
{"task":"OT","s":"Orientation","g":2,"t":0.78,"v":33.6},
{"task":"OT","s":"Orientation","g":2,"t":0.85,"v":32.0},
{"task":"OT","s":"Orientation","g":2,"t":0.9,"v":29.5},
{"task":"OT","s":"Orientation","g":2,"t":0.95,"v":28.2},
{"task":"OT","s":"Orientation","g":2,"t":1.0,"v":27.5},
{"task":"OT","s":"Orientation","g":2,"t":1.05,"v":27.2},
{"task":"OT","s":"Orientation","g":2,"t":1.1,"v":25.0},
{"task":"OT","s":"Orientation","g":2,"t":1.15,"v":22.9},
{"task":"OT","s":"Orientation","g":2,"t":1.2,"v":20.5},
{"task":"OT","s":"Orientation","g":2,"t":1.25,"v":18.6},
{"task":"OT","s":"Orientation","g":2,"t":1.3,"v":16.0},
{"task":"OT","s":"Orientation","g":2,"t":1.35,"v":15.5},
{"task":"OT","s":"Orientation","g":2,"t":1.4,"v":18.5},
{"task":"OT","s":"Orientation","g":2,"t":1.45,"v":20.2},
{"task":"OT","s":"Orientation","g":2,"t":1.5,"v":18.6},
{"task":"OT","s":"Orientation","g":2,"t":1.55,"v":17.5},
{"task":"OT","s":"Orientation","g":2,"t":1.6,"v":20.8},
{"task":"OT","s":"Orientation","g":2,"t":1.65,"v":20.0},
{"task":"OT","s":"Orientation","g":2,"t":1.7,"v":22.9},
{"task":"OT","s":"Orientation","g":2,"t":1.75,"v":24.0},
{"task":"OT","s":"Orientation","g":2,"t":1.8,"v":22.0},
{"task":"OT","s":"Orientation","g":2,"t":1.85,"v":24.5},
{"task":"OT","s":"Orientation","g":2,"t":1.9,"v":25.6},
{"task":"OT","s":"Orientation","g":2,"t":1.95,"v":27.0},
{"task":"OT","s":"Orientation","g":2,"t":2.0,"v":24.0},
{"task":"OT","s":"Orientation","g":2,"t":2.05,"v":26.1},
{"task":"OT","s":"Orientation","g":3,"t":2.15,"v":27.2},
{"task":"OT","s":"Orientation","g":3,"t":2.2,"v":25.0},
{"task":"OT","s":"Orientation","g":3,"t":2.25,"v":22.9},
{"task":"OT","s":"Orientation","g":3,"t":2.3,"v":20.0},
{"task":"OT","s":"Orientation","g":3,"t":2.35,"v":20.2},
{"task":"OT","s":"Orientation","g":3,"t":2.4,"v":22.0},
{"task":"OT","s":"Orientation","g":3,"t":2.45,"v":21.3},
{"task":"OT","s":"Orientation","g":3,"t":2.5,"v":23.5},
{"task":"OT","s":"Orientation","g":3,"t":2.55,"v":26.1},
{"task":"OT","s":"Orientation","g":3,"t":2.6,"v":28.0},
{"task":"OT","s":"Orientation","g":3,"t":2.65,"v":29.3},
{"task":"OT","s":"Orientation","g":3,"t":2.7,"v":30.9},
{"task":"OT","s":"Orientation","g":3,"t":2.75,"v":29.0},
{"task":"OT","s":"Orientation","g":3,"t":2.8,"v":27.2},
{"task":"OT","s":"Orientation","g":3,"t":2.85,"v":25.5},
{"task":"OT","s":"Orientation","g":3,"t":2.9,"v":24.0},
{"task":"OT","s":"Grip Type","g":1,"t":-1.3,"v":7.5},
{"task":"OT","s":"Grip Type","g":1,"t":-1.25,"v":9.5},
{"task":"OT","s":"Grip Type","g":1,"t":-1.2,"v":10.1},
{"task":"OT","s":"Grip Type","g":1,"t":-1.15,"v":9.0},
{"task":"OT","s":"Grip Type","g":1,"t":-1.1,"v":8.0},
{"task":"OT","s":"Grip Type","g":1,"t":-1.05,"v":6.5},
{"task":"OT","s":"Grip Type","g":1,"t":-1.0,"v":5.9},
{"task":"OT","s":"Grip Type","g":1,"t":-0.95,"v":7.5},
{"task":"OT","s":"Grip Type","g":1,"t":-0.9,"v":8.5},
{"task":"OT","s":"Grip Type","g":1,"t":-0.85,"v":7.0},
{"task":"OT","s":"Grip Type","g":1,"t":-0.8,"v":6.9},
{"task":"OT","s":"Grip Type","g":1,"t":-0.75,"v":6.0},
{"task":"OT","s":"Grip Type","g":1,"t":-0.7,"v":4.8},
{"task":"OT","s":"Grip Type","g":1,"t":-0.65,"v":3.5},
{"task":"OT","s":"Grip Type","g":1,"t":-0.6,"v":3.7},
{"task":"OT","s":"Grip Type","g":1,"t":-0.55,"v":3.2},
{"task":"OT","s":"Grip Type","g":1,"t":-0.5,"v":3.2},
{"task":"OT","s":"Grip Type","g":1,"t":-0.45,"v":3.8},
{"task":"OT","s":"Grip Type","g":1,"t":-0.4,"v":3.7},
{"task":"OT","s":"Grip Type","g":1,"t":-0.35,"v":0.5},
{"task":"OT","s":"Grip Type","g":1,"t":-0.3,"v":2.5},
{"task":"OT","s":"Grip Type","g":1,"t":-0.25,"v":4.3},
{"task":"OT","s":"Grip Type","g":1,"t":-0.2,"v":6.0},
{"task":"OT","s":"Grip Type","g":1,"t":-0.15,"v":2.7},
{"task":"OT","s":"Grip Type","g":1,"t":-0.1,"v":3.5},
{"task":"OT","s":"Grip Type","g":1,"t":-0.05,"v":3.7},
{"task":"OT","s":"Grip Type","g":1,"t":0,"v":2.7},
{"task":"OT","s":"Grip Type","g":1,"t":0.05,"v":4.0},
{"task":"OT","s":"Grip Type","g":1,"t":0.08,"v":3.7},
{"task":"OT","s":"Grip Type","g":1,"t":0.12,"v":3.0},
{"task":"OT","s":"Grip Type","g":1,"t":0.15,"v":2.1},
{"task":"OT","s":"Grip Type","g":1,"t":0.2,"v":3.5},
{"task":"OT","s":"Grip Type","g":1,"t":0.25,"v":3.7},
{"task":"OT","s":"Grip Type","g":1,"t":0.3,"v":4.5},
{"task":"OT","s":"Grip Type","g":1,"t":0.35,"v":4.3},
{"task":"OT","s":"Grip Type","g":1,"t":0.4,"v":5.0},
{"task":"OT","s":"Grip Type","g":1,"t":0.45,"v":4.8},
{"task":"OT","s":"Grip Type","g":1,"t":0.52,"v":5.3},
{"task":"OT","s":"Grip Type","g":2,"t":0.62,"v":4.3},
{"task":"OT","s":"Grip Type","g":2,"t":0.65,"v":5.5},
{"task":"OT","s":"Grip Type","g":2,"t":0.68,"v":6.9},
{"task":"OT","s":"Grip Type","g":2,"t":0.73,"v":7.2},
{"task":"OT","s":"Grip Type","g":2,"t":0.78,"v":7.5},
{"task":"OT","s":"Grip Type","g":2,"t":0.82,"v":11.2},
{"task":"OT","s":"Grip Type","g":2,"t":0.85,"v":14.0},
{"task":"OT","s":"Grip Type","g":2,"t":0.88,"v":14.9},
{"task":"OT","s":"Grip Type","g":2,"t":0.92,"v":15.0},
{"task":"OT","s":"Grip Type","g":2,"t":0.95,"v":15.4},
{"task":"OT","s":"Grip Type","g":2,"t":0.98,"v":20.0},
{"task":"OT","s":"Grip Type","g":2,"t":1.0,"v":22.4},
{"task":"OT","s":"Grip Type","g":2,"t":1.03,"v":27.0},
{"task":"OT","s":"Grip Type","g":2,"t":1.05,"v":30.4},
{"task":"OT","s":"Grip Type","g":2,"t":1.08,"v":33.0},
{"task":"OT","s":"Grip Type","g":2,"t":1.1,"v":35.7},
{"task":"OT","s":"Grip Type","g":2,"t":1.13,"v":40.0},
{"task":"OT","s":"Grip Type","g":2,"t":1.15,"v":45.3},
{"task":"OT","s":"Grip Type","g":2,"t":1.2,"v":45.0},
{"task":"OT","s":"Grip Type","g":2,"t":1.22,"v":44.2},
{"task":"OT","s":"Grip Type","g":2,"t":1.25,"v":41.0},
{"task":"OT","s":"Grip Type","g":2,"t":1.28,"v":37.8},
{"task":"OT","s":"Grip Type","g":2,"t":1.32,"v":37.5},
{"task":"OT","s":"Grip Type","g":2,"t":1.35,"v":37.3},
{"task":"OT","s":"Grip Type","g":2,"t":1.38,"v":35.0},
{"task":"OT","s":"Grip Type","g":2,"t":1.42,"v":33.6},
{"task":"OT","s":"Grip Type","g":2,"t":1.46,"v":34.5},
{"task":"OT","s":"Grip Type","g":2,"t":1.5,"v":35.7},
{"task":"OT","s":"Grip Type","g":2,"t":1.54,"v":37.0},
{"task":"OT","s":"Grip Type","g":2,"t":1.58,"v":37.8},
{"task":"OT","s":"Grip Type","g":2,"t":1.62,"v":34.0},
{"task":"OT","s":"Grip Type","g":2,"t":1.65,"v":31.4},
{"task":"OT","s":"Grip Type","g":2,"t":1.68,"v":33.0},
{"task":"OT","s":"Grip Type","g":2,"t":1.72,"v":34.6},
{"task":"OT","s":"Grip Type","g":2,"t":1.76,"v":32.5},
{"task":"OT","s":"Grip Type","g":2,"t":1.8,"v":33.6},
{"task":"OT","s":"Grip Type","g":2,"t":1.85,"v":35.0},
{"task":"OT","s":"Grip Type","g":2,"t":1.9,"v":34.6},
{"task":"OT","s":"Grip Type","g":2,"t":1.95,"v":34.0},
{"task":"OT","s":"Grip Type","g":2,"t":2.0,"v":34.5},
{"task":"OT","s":"Grip Type","g":2,"t":2.05,"v":34.6},
{"task":"OT","s":"Grip Type","g":3,"t":2.15,"v":33.0},
{"task":"OT","s":"Grip Type","g":3,"t":2.2,"v":32.5},
{"task":"OT","s":"Grip Type","g":3,"t":2.25,"v":32.0},
{"task":"OT","s":"Grip Type","g":3,"t":2.3,"v":33.0},
{"task":"OT","s":"Grip Type","g":3,"t":2.35,"v":35.7},
{"task":"OT","s":"Grip Type","g":3,"t":2.4,"v":39.0},
{"task":"OT","s":"Grip Type","g":3,"t":2.45,"v":43.1},
{"task":"OT","s":"Grip Type","g":3,"t":2.48,"v":47.0},
{"task":"OT","s":"Grip Type","g":3,"t":2.5,"v":50.1},
{"task":"OT","s":"Grip Type","g":3,"t":2.55,"v":49.5},
{"task":"OT","s":"Grip Type","g":3,"t":2.6,"v":52.7},
{"task":"OT","s":"Grip Type","g":3,"t":2.65,"v":55.9},
{"task":"OT","s":"Grip Type","g":3,"t":2.7,"v":54.5},
{"task":"OT","s":"Grip Type","g":3,"t":2.75,"v":55.5},
{"task":"OT","s":"Grip Type","g":3,"t":2.8,"v":57.5},
{"task":"OT","s":"Grip Type","g":3,"t":2.85,"v":59.0},
{"task":"OT","s":"Grip Type","g":3,"t":2.9,"v":60.7},
{"task":"TO","s":"Orientation","g":1,"t":-1.3,"v":3.7},
{"task":"TO","s":"Orientation","g":1,"t":-1.25,"v":5.0},
{"task":"TO","s":"Orientation","g":1,"t":-1.2,"v":4.8},
{"task":"TO","s":"Orientation","g":1,"t":-1.15,"v":3.5},
{"task":"TO","s":"Orientation","g":1,"t":-1.1,"v":2.7},
{"task":"TO","s":"Orientation","g":1,"t":-1.05,"v":4.5},
{"task":"TO","s":"Orientation","g":1,"t":-1.0,"v":5.9},
{"task":"TO","s":"Orientation","g":1,"t":-0.95,"v":4.5},
{"task":"TO","s":"Orientation","g":1,"t":-0.9,"v":3.7},
{"task":"TO","s":"Orientation","g":1,"t":-0.85,"v":4.5},
{"task":"TO","s":"Orientation","g":1,"t":-0.8,"v":5.3},
{"task":"TO","s":"Orientation","g":1,"t":-0.75,"v":4.5},
{"task":"TO","s":"Orientation","g":1,"t":-0.7,"v":4.0},
{"task":"TO","s":"Orientation","g":1,"t":-0.65,"v":3.7},
{"task":"TO","s":"Orientation","g":1,"t":-0.6,"v":9.1},
{"task":"TO","s":"Orientation","g":1,"t":-0.55,"v":5.5},
{"task":"TO","s":"Orientation","g":1,"t":-0.5,"v":4.8},
{"task":"TO","s":"Orientation","g":1,"t":-0.45,"v":6.0},
{"task":"TO","s":"Orientation","g":1,"t":-0.4,"v":7.5},
{"task":"TO","s":"Orientation","g":1,"t":-0.35,"v":5.0},
{"task":"TO","s":"Orientation","g":1,"t":-0.3,"v":3.7},
{"task":"TO","s":"Orientation","g":1,"t":-0.25,"v":6.0},
{"task":"TO","s":"Orientation","g":1,"t":-0.2,"v":7.5},
{"task":"TO","s":"Orientation","g":1,"t":-0.15,"v":5.0},
{"task":"TO","s":"Orientation","g":1,"t":-0.1,"v":3.7},
{"task":"TO","s":"Orientation","g":1,"t":-0.05,"v":4.5},
{"task":"TO","s":"Orientation","g":1,"t":0,"v":4.8},
{"task":"TO","s":"Orientation","g":1,"t":0.05,"v":6.0},
{"task":"TO","s":"Orientation","g":1,"t":0.1,"v":6.9},
{"task":"TO","s":"Orientation","g":1,"t":0.15,"v":4.5},
{"task":"TO","s":"Orientation","g":1,"t":0.2,"v":2.7},
{"task":"TO","s":"Orientation","g":1,"t":0.25,"v":3.0},
{"task":"TO","s":"Orientation","g":1,"t":0.3,"v":3.7},
{"task":"TO","s":"Orientation","g":1,"t":0.35,"v":4.5},
{"task":"TO","s":"Orientation","g":1,"t":0.4,"v":4.8},
{"task":"TO","s":"Orientation","g":1,"t":0.45,"v":4.0},
{"task":"TO","s":"Orientation","g":1,"t":0.5,"v":4.3},
{"task":"TO","s":"Orientation","g":2,"t":0.65,"v":4.8},
{"task":"TO","s":"Orientation","g":2,"t":0.7,"v":5.5},
{"task":"TO","s":"Orientation","g":2,"t":0.75,"v":6.9},
{"task":"TO","s":"Orientation","g":2,"t":0.8,"v":9.0},
{"task":"TO","s":"Orientation","g":2,"t":0.82,"v":11.2},
{"task":"TO","s":"Orientation","g":2,"t":0.86,"v":18.0},
{"task":"TO","s":"Orientation","g":2,"t":0.9,"v":25.0},
{"task":"TO","s":"Orientation","g":2,"t":0.95,"v":35.7},
{"task":"TO","s":"Orientation","g":2,"t":1.0,"v":44.2},
{"task":"TO","s":"Orientation","g":2,"t":1.04,"v":48.0},
{"task":"TO","s":"Orientation","g":2,"t":1.07,"v":49.5},
{"task":"TO","s":"Orientation","g":2,"t":1.11,"v":50.0},
{"task":"TO","s":"Orientation","g":2,"t":1.15,"v":49.5},
{"task":"TO","s":"Orientation","g":2,"t":1.2,"v":47.5},
{"task":"TO","s":"Orientation","g":2,"t":1.25,"v":45.3},
{"task":"TO","s":"Orientation","g":2,"t":1.3,"v":44.0},
{"task":"TO","s":"Orientation","g":2,"t":1.35,"v":43.1},
{"task":"TO","s":"Orientation","g":2,"t":1.4,"v":43.5},
{"task":"TO","s":"Orientation","g":2,"t":1.45,"v":44.2},
{"task":"TO","s":"Orientation","g":2,"t":1.5,"v":46.0},
{"task":"TO","s":"Orientation","g":2,"t":1.55,"v":47.4},
{"task":"TO","s":"Orientation","g":2,"t":1.6,"v":46.5},
{"task":"TO","s":"Orientation","g":2,"t":1.65,"v":46.3},
{"task":"TO","s":"Orientation","g":2,"t":1.7,"v":44.0},
{"task":"TO","s":"Orientation","g":2,"t":1.75,"v":41.6},
{"task":"TO","s":"Orientation","g":2,"t":1.8,"v":40.5},
{"task":"TO","s":"Orientation","g":2,"t":1.82,"v":40.0},
{"task":"TO","s":"Orientation","g":2,"t":1.86,"v":42.0},
{"task":"TO","s":"Orientation","g":2,"t":1.9,"v":44.2},
{"task":"TO","s":"Orientation","g":2,"t":1.95,"v":41.0},
{"task":"TO","s":"Orientation","g":2,"t":2.0,"v":38.4},
{"task":"TO","s":"Orientation","g":2,"t":2.05,"v":37.8},
{"task":"TO","s":"Orientation","g":3,"t":2.15,"v":35.2},
{"task":"TO","s":"Orientation","g":3,"t":2.2,"v":34.0},
{"task":"TO","s":"Orientation","g":3,"t":2.25,"v":35.7},
{"task":"TO","s":"Orientation","g":3,"t":2.3,"v":36.5},
{"task":"TO","s":"Orientation","g":3,"t":2.35,"v":35.7},
{"task":"TO","s":"Orientation","g":3,"t":2.4,"v":38.0},
{"task":"TO","s":"Orientation","g":3,"t":2.45,"v":40.0},
{"task":"TO","s":"Orientation","g":3,"t":2.5,"v":39.0},
{"task":"TO","s":"Orientation","g":3,"t":2.55,"v":37.8},
{"task":"TO","s":"Orientation","g":3,"t":2.6,"v":36.5},
{"task":"TO","s":"Orientation","g":3,"t":2.65,"v":36.8},
{"task":"TO","s":"Orientation","g":3,"t":2.7,"v":37.5},
{"task":"TO","s":"Orientation","g":3,"t":2.72,"v":38.9},
{"task":"TO","s":"Orientation","g":3,"t":2.76,"v":37.0},
{"task":"TO","s":"Orientation","g":3,"t":2.8,"v":35.7},
{"task":"TO","s":"Orientation","g":3,"t":2.85,"v":37.0},
{"task":"TO","s":"Orientation","g":3,"t":2.9,"v":35.5},
{"task":"TO","s":"Orientation","g":3,"t":2.95,"v":34.6},
{"task":"TO","s":"Grip Type","g":1,"t":-1.3,"v":4.3},
{"task":"TO","s":"Grip Type","g":1,"t":-1.25,"v":3.5},
{"task":"TO","s":"Grip Type","g":1,"t":-1.2,"v":3.0},
{"task":"TO","s":"Grip Type","g":1,"t":-1.15,"v":3.7},
{"task":"TO","s":"Grip Type","g":1,"t":-1.1,"v":4.5},
{"task":"TO","s":"Grip Type","g":1,"t":-1.05,"v":6.0},
{"task":"TO","s":"Grip Type","g":1,"t":-1.02,"v":7.5},
{"task":"TO","s":"Grip Type","g":1,"t":-0.98,"v":6.0},
{"task":"TO","s":"Grip Type","g":1,"t":-0.95,"v":4.8},
{"task":"TO","s":"Grip Type","g":1,"t":-0.9,"v":4.5},
{"task":"TO","s":"Grip Type","g":1,"t":-0.85,"v":4.3},
{"task":"TO","s":"Grip Type","g":1,"t":-0.8,"v":4.0},
{"task":"TO","s":"Grip Type","g":1,"t":-0.75,"v":3.7},
{"task":"TO","s":"Grip Type","g":1,"t":-0.7,"v":3.0},
{"task":"TO","s":"Grip Type","g":1,"t":-0.65,"v":2.7},
{"task":"TO","s":"Grip Type","g":1,"t":-0.6,"v":3.0},
{"task":"TO","s":"Grip Type","g":1,"t":-0.55,"v":3.2},
{"task":"TO","s":"Grip Type","g":1,"t":-0.5,"v":4.8},
{"task":"TO","s":"Grip Type","g":1,"t":-0.46,"v":7.5},
{"task":"TO","s":"Grip Type","g":1,"t":-0.42,"v":10.1},
{"task":"TO","s":"Grip Type","g":1,"t":-0.38,"v":11.5},
{"task":"TO","s":"Grip Type","g":1,"t":-0.35,"v":12.3},
{"task":"TO","s":"Grip Type","g":1,"t":-0.3,"v":13.9},
{"task":"TO","s":"Grip Type","g":1,"t":-0.25,"v":15.4},
{"task":"TO","s":"Grip Type","g":1,"t":-0.22,"v":18.0},
{"task":"TO","s":"Grip Type","g":1,"t":-0.2,"v":20.8},
{"task":"TO","s":"Grip Type","g":1,"t":-0.17,"v":23.0},
{"task":"TO","s":"Grip Type","g":1,"t":-0.15,"v":22.9},
{"task":"TO","s":"Grip Type","g":1,"t":-0.12,"v":21.0},
{"task":"TO","s":"Grip Type","g":1,"t":-0.1,"v":20.2},
{"task":"TO","s":"Grip Type","g":1,"t":-0.05,"v":21.0},
{"task":"TO","s":"Grip Type","g":1,"t":0,"v":20.8},
{"task":"TO","s":"Grip Type","g":1,"t":0.05,"v":21.5},
{"task":"TO","s":"Grip Type","g":1,"t":0.1,"v":22.4},
{"task":"TO","s":"Grip Type","g":1,"t":0.14,"v":20.5},
{"task":"TO","s":"Grip Type","g":1,"t":0.18,"v":18.6},
{"task":"TO","s":"Grip Type","g":1,"t":0.22,"v":15.4},
{"task":"TO","s":"Grip Type","g":1,"t":0.26,"v":19.0},
{"task":"TO","s":"Grip Type","g":1,"t":0.3,"v":22.9},
{"task":"TO","s":"Grip Type","g":1,"t":0.34,"v":23.5},
{"task":"TO","s":"Grip Type","g":1,"t":0.38,"v":25.6},
{"task":"TO","s":"Grip Type","g":1,"t":0.42,"v":26.0},
{"task":"TO","s":"Grip Type","g":1,"t":0.45,"v":25.0},
{"task":"TO","s":"Grip Type","g":1,"t":0.5,"v":23.0},
{"task":"TO","s":"Grip Type","g":1,"t":0.55,"v":21.3},
{"task":"TO","s":"Grip Type","g":2,"t":0.65,"v":22.9},
{"task":"TO","s":"Grip Type","g":2,"t":0.69,"v":21.5},
{"task":"TO","s":"Grip Type","g":2,"t":0.72,"v":24.0},
{"task":"TO","s":"Grip Type","g":2,"t":0.76,"v":22.0},
{"task":"TO","s":"Grip Type","g":2,"t":0.8,"v":20.8},
{"task":"TO","s":"Grip Type","g":2,"t":0.85,"v":23.5},
{"task":"TO","s":"Grip Type","g":2,"t":0.9,"v":26.1},
{"task":"TO","s":"Grip Type","g":2,"t":0.95,"v":28.0},
{"task":"TO","s":"Grip Type","g":2,"t":1.0,"v":29.3},
{"task":"TO","s":"Grip Type","g":2,"t":1.03,"v":31.0},
{"task":"TO","s":"Grip Type","g":2,"t":1.07,"v":34.6},
{"task":"TO","s":"Grip Type","g":2,"t":1.11,"v":37.0},
{"task":"TO","s":"Grip Type","g":2,"t":1.15,"v":38.4},
{"task":"TO","s":"Grip Type","g":2,"t":1.2,"v":39.5},
{"task":"TO","s":"Grip Type","g":2,"t":1.25,"v":39.4},
{"task":"TO","s":"Grip Type","g":2,"t":1.3,"v":41.0},
{"task":"TO","s":"Grip Type","g":2,"t":1.35,"v":42.1},
{"task":"TO","s":"Grip Type","g":2,"t":1.4,"v":41.0},
{"task":"TO","s":"Grip Type","g":2,"t":1.45,"v":37.8},
{"task":"TO","s":"Grip Type","g":2,"t":1.5,"v":35.0},
{"task":"TO","s":"Grip Type","g":2,"t":1.55,"v":32.5},
{"task":"TO","s":"Grip Type","g":2,"t":1.58,"v":29.0},
{"task":"TO","s":"Grip Type","g":2,"t":1.62,"v":26.1},
{"task":"TO","s":"Grip Type","g":2,"t":1.66,"v":29.5},
{"task":"TO","s":"Grip Type","g":2,"t":1.7,"v":31.4},
{"task":"TO","s":"Grip Type","g":2,"t":1.75,"v":29.5},
{"task":"TO","s":"Grip Type","g":2,"t":1.8,"v":28.8},
{"task":"TO","s":"Grip Type","g":2,"t":1.85,"v":31.5},
{"task":"TO","s":"Grip Type","g":2,"t":1.9,"v":33.6},
{"task":"TO","s":"Grip Type","g":2,"t":1.95,"v":32.0},
{"task":"TO","s":"Grip Type","g":2,"t":2.0,"v":31.4},
{"task":"TO","s":"Grip Type","g":2,"t":2.03,"v":27.2},
{"task":"TO","s":"Grip Type","g":3,"t":2.2,"v":27.2},
{"task":"TO","s":"Grip Type","g":3,"t":2.24,"v":30.0},
{"task":"TO","s":"Grip Type","g":3,"t":2.28,"v":33.6},
{"task":"TO","s":"Grip Type","g":3,"t":2.32,"v":34.8},
{"task":"TO","s":"Grip Type","g":3,"t":2.35,"v":34.6},
{"task":"TO","s":"Grip Type","g":3,"t":2.4,"v":40.0},
{"task":"TO","s":"Grip Type","g":3,"t":2.45,"v":45.3},
{"task":"TO","s":"Grip Type","g":3,"t":2.5,"v":49.5},
{"task":"TO","s":"Grip Type","g":3,"t":2.55,"v":50.5},
{"task":"TO","s":"Grip Type","g":3,"t":2.6,"v":52.2},
{"task":"TO","s":"Grip Type","g":3,"t":2.65,"v":54.5},
{"task":"TO","s":"Grip Type","g":3,"t":2.7,"v":57.0},
{"task":"TO","s":"Grip Type","g":3,"t":2.74,"v":60.0},
{"task":"TO","s":"Grip Type","g":3,"t":2.78,"v":63.4},
{"task":"TO","s":"Grip Type","g":3,"t":2.82,"v":63.0},
{"task":"TO","s":"Grip Type","g":3,"t":2.88,"v":65.0},
{"task":"TO","s":"Grip Type","g":3,"t":2.95,"v":62.9}
  ]
},
"vconcat": [
 {
  "hconcat": [
   {
    "width": 277, "height": 218,
    "title": {"text": "OT–Task", "offset": -14},
    "layer": [
     {"data": {"name": "ev"}, "mark": {"type": "rule", "color": "#000", "strokeWidth": 1.8},
      "encoding": {"x": {"field": "t", "type": "quantitative", "scale": {"domain": [-1.3, 2.9], "nice": false, "zero": false}, "axis": {"values": [-1, 0, 1, 2], "format": "d", "title": "Time (s)"}}}},
     {"data": {"name": "fr"}, "transform": [{"filter": "datum.task === 'OT'"}],
      "mark": {"type": "line", "strokeWidth": 4, "clip": true},
      "encoding": {
        "x": {"field": "t", "type": "quantitative", "scale": {"domain": [-1.3, 2.9], "nice": false, "zero": false}, "axis": {"values": [-1, 0, 1, 2], "format": "d", "title": "Time (s)"}},
        "y": {"field": "v", "type": "quantitative", "scale": {"domain": [5, 23], "nice": false, "zero": false}, "axis": {"values": [5, 10, 15, 20], "title": "Firing Rate (Hz)", "labelPadding": 5, "titlePadding": 6}},
        "color": {"field": "s", "type": "nominal", "scale": {"domain": ["Preferred Orientation and Type", "Preferred Orientation / off Type", "off Orientation / preferred Type", "off Orientation and Type"], "range": ["#ff1a1a", "#1f9e45", "#1a1a96", "#000000"]},
          "legend": {"title": null, "orient": "none", "legendX": 4, "legendY": 3, "fillColor": "white", "strokeColor": "black", "padding": 4, "symbolType": "M-0.6,0H4.8", "symbolStrokeWidth": 4.5, "symbolSize": 100, "labelFontSize": 13, "labelLimit": 300, "rowPadding": -4, "labelOffset": 24, "labelColor": "#000"}},
        "detail": {"field": "g"}
      }},
     {"data": {"name": "dot"}, "mark": {"type": "rule", "color": "#000", "strokeWidth": 2.2, "strokeDash": [3, 4]},
      "encoding": {"x": {"field": "t", "type": "quantitative", "scale": {"domain": [-1.3, 2.9], "nice": false, "zero": false}, "axis": {"values": [-1, 0, 1, 2], "format": "d", "title": "Time (s)"}}, "y": {"datum": 6.9, "type": "quantitative", "scale": {"domain": [5, 23], "nice": false, "zero": false}, "axis": {"values": [5, 10, 15, 20], "title": "Firing Rate (Hz)", "labelPadding": 5, "titlePadding": 6}}, "y2": {"datum": 23}}},
     {"data": {"name": "phases"}, "transform": [{"filter": "datum.task === 'OT'"}],
      "mark": {"type": "text", "fontSize": 13, "baseline": "middle"},
      "encoding": {"x": {"field": "t", "type": "quantitative", "scale": {"domain": [-1.3, 2.9], "nice": false, "zero": false}, "axis": {"values": [-1, 0, 1, 2], "format": "d", "title": "Time (s)"}}, "y": {"datum": 5.9, "type": "quantitative", "scale": {"domain": [5, 23], "nice": false, "zero": false}, "axis": {"values": [5, 10, 15, 20], "title": "Firing Rate (Hz)", "labelPadding": 5, "titlePadding": 6}}, "text": {"field": "label"}}},
     {"data": {"name": "tri"}, "mark": {"type": "point", "shape": "triangle-up", "filled": true, "color": "#000", "size": 55, "opacity": 1},
      "encoding": {"x": {"field": "t", "type": "quantitative", "scale": {"domain": [-1.3, 2.9], "nice": false, "zero": false}, "axis": {"values": [-1, 0, 1, 2], "format": "d", "title": "Time (s)"}}, "y": {"datum": 4.63, "type": "quantitative", "scale": {"domain": [5, 23], "nice": false, "zero": false}, "axis": {"values": [5, 10, 15, 20], "title": "Firing Rate (Hz)", "labelPadding": 5, "titlePadding": 6}}}},
     {"data": {"values": [{"p": "A"}]}, "mark": {"type": "text", "font": "Liberation Sans", "fontSize": 25, "align": "left", "baseline": "alphabetic"},
      "encoding": {"x": {"datum": -1.937, "type": "quantitative", "scale": {"domain": [-1.3, 2.9], "nice": false, "zero": false}, "axis": {"values": [-1, 0, 1, 2], "format": "d", "title": "Time (s)"}}, "y": {"datum": 23.1, "type": "quantitative", "scale": {"domain": [5, 23], "nice": false, "zero": false}, "axis": {"values": [5, 10, 15, 20], "title": "Firing Rate (Hz)", "labelPadding": 5, "titlePadding": 6}}, "text": {"field": "p"}}}
    ]
   },
   {
    "width": 277, "height": 218,
    "title": "TO–Task",
    "layer": [
     {"data": {"name": "ev"}, "mark": {"type": "rule", "color": "#000", "strokeWidth": 1.8},
      "encoding": {"x": {"field": "t", "type": "quantitative", "scale": {"domain": [-1.3, 2.9], "nice": false, "zero": false}, "axis": {"values": [-1, 0, 1, 2], "format": "d", "title": "Time (s)"}}}},
     {"data": {"name": "fr"}, "transform": [{"filter": "datum.task === 'TO'"}],
      "mark": {"type": "line", "strokeWidth": 4, "clip": true},
      "encoding": {
        "x": {"field": "t", "type": "quantitative", "scale": {"domain": [-1.3, 2.9], "nice": false, "zero": false}, "axis": {"values": [-1, 0, 1, 2], "format": "d", "title": "Time (s)"}},
        "y": {"field": "v", "type": "quantitative", "scale": {"domain": [5, 23], "nice": false, "zero": false}, "axis": {"values": [5, 10, 15, 20], "title": null, "labelPadding": 5}},
        "color": {"field": "s", "type": "nominal", "scale": {"domain": ["Preferred Orientation and Type", "Preferred Orientation / off Type", "off Orientation / preferred Type", "off Orientation and Type"], "range": ["#ff1a1a", "#1f9e45", "#1a1a96", "#000000"]}, "legend": null},
        "detail": {"field": "g"}
      }},
     {"data": {"name": "dot"}, "mark": {"type": "rule", "color": "#000", "strokeWidth": 2.2, "strokeDash": [3, 4]},
      "encoding": {"x": {"field": "t", "type": "quantitative", "scale": {"domain": [-1.3, 2.9], "nice": false, "zero": false}, "axis": {"values": [-1, 0, 1, 2], "format": "d", "title": "Time (s)"}}, "y": {"datum": 6.9, "type": "quantitative", "scale": {"domain": [5, 23], "nice": false, "zero": false}, "axis": {"values": [5, 10, 15, 20], "title": null, "labelPadding": 5}}, "y2": {"datum": 23}}},
     {"data": {"name": "phases"}, "transform": [{"filter": "datum.task === 'TO'"}],
      "mark": {"type": "text", "fontSize": 13, "baseline": "middle"},
      "encoding": {"x": {"field": "t", "type": "quantitative", "scale": {"domain": [-1.3, 2.9], "nice": false, "zero": false}, "axis": {"values": [-1, 0, 1, 2], "format": "d", "title": "Time (s)"}}, "y": {"datum": 5.9, "type": "quantitative", "scale": {"domain": [5, 23], "nice": false, "zero": false}, "axis": {"values": [5, 10, 15, 20], "title": null, "labelPadding": 5}}, "text": {"field": "label"}}},
     {"data": {"name": "tri"}, "mark": {"type": "point", "shape": "triangle-up", "filled": true, "color": "#000", "size": 55, "opacity": 1},
      "encoding": {"x": {"field": "t", "type": "quantitative", "scale": {"domain": [-1.3, 2.9], "nice": false, "zero": false}, "axis": {"values": [-1, 0, 1, 2], "format": "d", "title": "Time (s)"}}, "y": {"datum": 4.63, "type": "quantitative", "scale": {"domain": [5, 23], "nice": false, "zero": false}, "axis": {"values": [5, 10, 15, 20], "title": null, "labelPadding": 5}}}}
    ]
   }
  ],
  "spacing": 41, "bounds": "flush",
  "resolve": {"scale": {"color": "independent"}, "legend": {"color": "independent"}}
 },
 {
  "hconcat": [
   {
    "width": 277, "height": 219,
    "title": {"text": "OT–Task", "offset": -14},
    "layer": [
     {"data": {"name": "ev"}, "mark": {"type": "rule", "color": "#000", "strokeWidth": 1.8},
      "encoding": {"x": {"field": "t", "type": "quantitative", "scale": {"domain": [-1.3, 2.9], "nice": false, "zero": false}, "axis": {"values": [-1, 0, 1, 2], "format": "d", "title": "Time (s)"}}}},
     {"data": {"name": "pct"}, "transform": [{"filter": "datum.task === 'OT'"}],
      "mark": {"type": "line", "strokeWidth": 4, "clip": true},
      "encoding": {
        "x": {"field": "t", "type": "quantitative", "scale": {"domain": [-1.3, 2.9], "nice": false, "zero": false}, "axis": {"values": [-1, 0, 1, 2], "format": "d", "title": "Time (s)"}},
        "y": {"field": "v", "type": "quantitative", "scale": {"domain": [0, 70], "nice": false, "zero": false}, "axis": {"values": [0, 10, 20, 30, 40, 50, 60, 70], "title": "Percentage of cells", "labelPadding": 7, "titlePadding": 6}},
        "color": {"field": "s", "type": "nominal", "scale": {"domain": ["Grip Type", "Orientation"], "range": ["#000000", "#b3b3b3"]},
          "legend": {"title": null, "orient": "none", "legendX": 180, "legendY": 178, "fillColor": "white", "strokeColor": "black", "padding": 3, "symbolType": "M-0.8,0H5.2", "symbolStrokeWidth": 4.5, "symbolSize": 100, "labelFontSize": 13, "labelLimit": 300, "rowPadding": -3, "labelOffset": 20, "labelColor": "#000"}},
        "detail": {"field": "g"}
      }},
     {"data": {"name": "dot"}, "mark": {"type": "rule", "color": "#000", "strokeWidth": 2.2, "strokeDash": [3, 4]},
      "encoding": {"x": {"field": "t", "type": "quantitative", "scale": {"domain": [-1.3, 2.9], "nice": false, "zero": false}, "axis": {"values": [-1, 0, 1, 2], "format": "d", "title": "Time (s)"}}, "y": {"datum": 0, "type": "quantitative", "scale": {"domain": [0, 70], "nice": false, "zero": false}, "axis": {"values": [0, 10, 20, 30, 40, 50, 60, 70], "title": "Percentage of cells", "labelPadding": 7, "titlePadding": 6}}, "y2": {"datum": 65.5}}},
     {"data": {"name": "phases"}, "transform": [{"filter": "datum.task === 'OT'"}],
      "mark": {"type": "text", "fontSize": 13, "baseline": "middle"},
      "encoding": {"x": {"field": "t", "type": "quantitative", "scale": {"domain": [-1.3, 2.9], "nice": false, "zero": false}, "axis": {"values": [-1, 0, 1, 2], "format": "d", "title": "Time (s)"}}, "y": {"datum": 67, "type": "quantitative", "scale": {"domain": [0, 70], "nice": false, "zero": false}, "axis": {"values": [0, 10, 20, 30, 40, 50, 60, 70], "title": "Percentage of cells", "labelPadding": 7, "titlePadding": 6}}, "text": {"field": "label"}}},
     {"data": {"name": "tri"}, "mark": {"type": "point", "shape": "triangle-up", "filled": true, "color": "#000", "size": 55, "opacity": 1},
      "encoding": {"x": {"field": "t", "type": "quantitative", "scale": {"domain": [-1.3, 2.9], "nice": false, "zero": false}, "axis": {"values": [-1, 0, 1, 2], "format": "d", "title": "Time (s)"}}, "y": {"datum": -1.2, "type": "quantitative", "scale": {"domain": [0, 70], "nice": false, "zero": false}, "axis": {"values": [0, 10, 20, 30, 40, 50, 60, 70], "title": "Percentage of cells", "labelPadding": 7, "titlePadding": 6}}}},
     {"data": {"values": [{"p": "B"}]}, "mark": {"type": "text", "font": "Liberation Sans", "fontSize": 25, "align": "left", "baseline": "alphabetic"},
      "encoding": {"x": {"datum": -1.937, "type": "quantitative", "scale": {"domain": [-1.3, 2.9], "nice": false, "zero": false}, "axis": {"values": [-1, 0, 1, 2], "format": "d", "title": "Time (s)"}}, "y": {"datum": 71.2, "type": "quantitative", "scale": {"domain": [0, 70], "nice": false, "zero": false}, "axis": {"values": [0, 10, 20, 30, 40, 50, 60, 70], "title": "Percentage of cells", "labelPadding": 7, "titlePadding": 6}}, "text": {"field": "p"}}}
    ]
   },
   {
    "width": 277, "height": 219,
    "title": "TO–Task",
    "layer": [
     {"data": {"name": "ev"}, "mark": {"type": "rule", "color": "#000", "strokeWidth": 1.8},
      "encoding": {"x": {"field": "t", "type": "quantitative", "scale": {"domain": [-1.3, 2.9], "nice": false, "zero": false}, "axis": {"values": [-1, 0, 1, 2], "format": "d", "title": "Time (s)"}}}},
     {"data": {"name": "pct"}, "transform": [{"filter": "datum.task === 'TO'"}],
      "mark": {"type": "line", "strokeWidth": 4, "clip": true},
      "encoding": {
        "x": {"field": "t", "type": "quantitative", "scale": {"domain": [-1.3, 2.9], "nice": false, "zero": false}, "axis": {"values": [-1, 0, 1, 2], "format": "d", "title": "Time (s)"}},
        "y": {"field": "v", "type": "quantitative", "scale": {"domain": [0, 70], "nice": false, "zero": false}, "axis": {"values": [0, 10, 20, 30, 40, 50, 60, 70], "title": null, "labelPadding": 7}},
        "color": {"field": "s", "type": "nominal", "scale": {"domain": ["Grip Type", "Orientation"], "range": ["#000000", "#b3b3b3"]}, "legend": null},
        "detail": {"field": "g"}
      }},
     {"data": {"name": "dot"}, "mark": {"type": "rule", "color": "#000", "strokeWidth": 2.2, "strokeDash": [3, 4]},
      "encoding": {"x": {"field": "t", "type": "quantitative", "scale": {"domain": [-1.3, 2.9], "nice": false, "zero": false}, "axis": {"values": [-1, 0, 1, 2], "format": "d", "title": "Time (s)"}}, "y": {"datum": 0, "type": "quantitative", "scale": {"domain": [0, 70], "nice": false, "zero": false}, "axis": {"values": [0, 10, 20, 30, 40, 50, 60, 70], "title": null, "labelPadding": 7}}, "y2": {"datum": 65.5}}},
     {"data": {"name": "phases"}, "transform": [{"filter": "datum.task === 'TO'"}],
      "mark": {"type": "text", "fontSize": 13, "baseline": "middle"},
      "encoding": {"x": {"field": "t", "type": "quantitative", "scale": {"domain": [-1.3, 2.9], "nice": false, "zero": false}, "axis": {"values": [-1, 0, 1, 2], "format": "d", "title": "Time (s)"}}, "y": {"datum": 67, "type": "quantitative", "scale": {"domain": [0, 70], "nice": false, "zero": false}, "axis": {"values": [0, 10, 20, 30, 40, 50, 60, 70], "title": null, "labelPadding": 7}}, "text": {"field": "label"}}},
     {"data": {"name": "tri"}, "mark": {"type": "point", "shape": "triangle-up", "filled": true, "color": "#000", "size": 55, "opacity": 1},
      "encoding": {"x": {"field": "t", "type": "quantitative", "scale": {"domain": [-1.3, 2.9], "nice": false, "zero": false}, "axis": {"values": [-1, 0, 1, 2], "format": "d", "title": "Time (s)"}}, "y": {"datum": -1.2, "type": "quantitative", "scale": {"domain": [0, 70], "nice": false, "zero": false}, "axis": {"values": [0, 10, 20, 30, 40, 50, 60, 70], "title": null, "labelPadding": 7}}}}
    ]
   }
  ],
  "spacing": 41, "bounds": "flush",
  "resolve": {"scale": {"color": "independent"}, "legend": {"color": "independent"}}
 }
],
"spacing": 17,
"resolve": {"scale": {"color": "independent"}, "legend": {"color": "independent"}}
}
